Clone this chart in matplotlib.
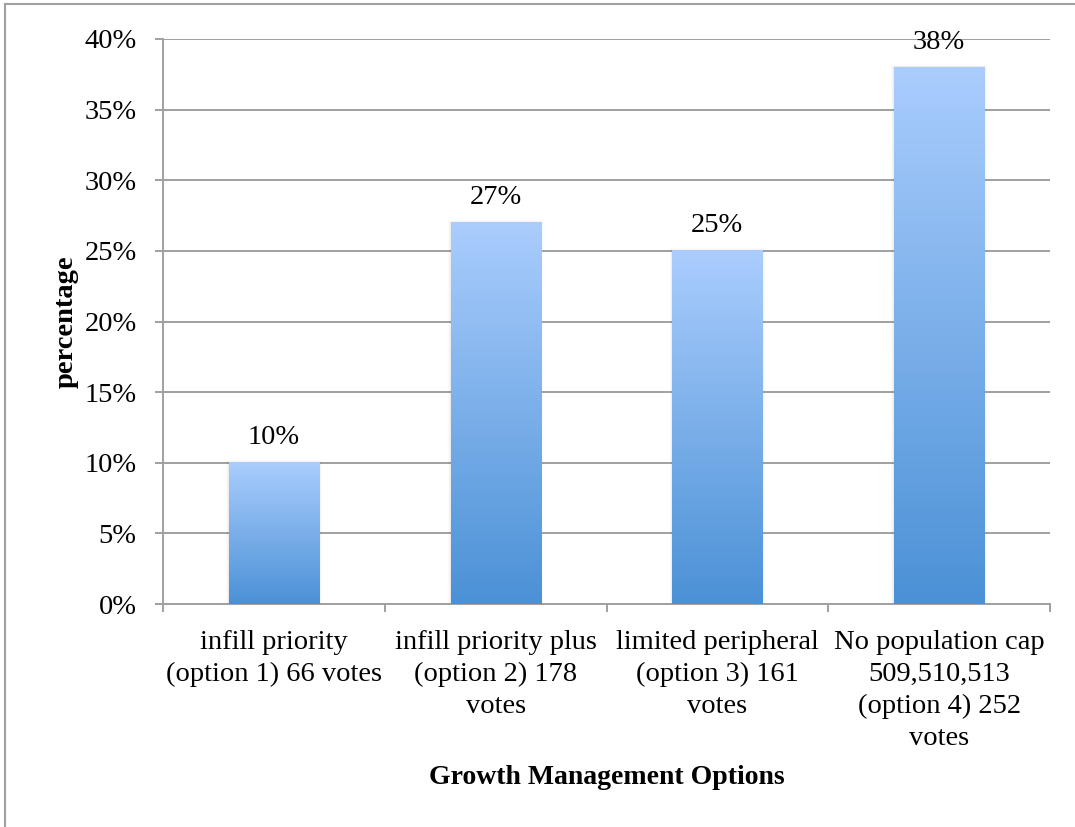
import matplotlib
matplotlib.use("Agg")
import matplotlib.pyplot as plt
import numpy as np
from matplotlib.colors import LinearSegmentedColormap
from matplotlib.patches import Rectangle
from matplotlib.lines import Line2D

categories = [
    "infill priority\n(option 1) 66 votes",
    "infill priority plus\n(option 2) 178\nvotes",
    "limited peripheral\n(option 3) 161\nvotes",
    "No population cap\n509,510,513\n(option 4) 252\nvotes",
]
values = [0.10, 0.27, 0.25, 0.38]
value_labels = ["10%", "27%", "25%", "38%"]
yticks = [0, 0.05, 0.10, 0.15, 0.20, 0.25, 0.30, 0.35, 0.40]
ytick_labels = ["0%", "5%", "10%", "15%", "20%", "25%", "30%", "35%", "40%"]

plt.rcParams['font.family'] = ['Liberation Serif', 'DejaVu Serif']
FS = 20.5

fig = plt.figure(figsize=(10.75, 8.27), dpi=100)
ax = fig.add_axes([163/1075, 1 - 604/827, (1050-163)/1075, (604-39)/827])

grid_col = '#a0a0a0'
x = np.arange(len(categories))
width = 0.406
cmap = LinearSegmentedColormap.from_list('g', ['#4b91d6', '#aacdfd'])
grad = np.linspace(0, 1, 256).reshape(-1, 1)

bars = ax.bar(x, values, width=width, color='none', zorder=3)
for b in bars:
    x0, y0 = b.get_x(), b.get_y()
    w, h = b.get_width(), b.get_height()
    # soft shadow
    for k, a in enumerate([0.035, 0.025, 0.015]):
        d = 0.004 * (k + 1)
        ax.add_patch(Rectangle((x0 - d, y0), w + 2 * d, h + 0.0006 * (k + 1),
                               facecolor='black', alpha=a, edgecolor='none', zorder=2.5))
    ax.imshow(grad, cmap=cmap, origin='lower', aspect='auto',
              extent=[x0, x0 + w, y0, y0 + h], zorder=3)

for xi, v, lab in zip(x, values, value_labels):
    ax.annotate(lab, (xi, v), xytext=(0, 9), textcoords='offset points',
                ha='center', va='bottom', fontsize=FS, color='black', zorder=5)

ax.set_xlim(-0.5, len(categories) - 0.5)
ax.set_ylim(0, 0.40)
ax.set_yticks(yticks)
ax.set_yticklabels(ytick_labels, fontsize=FS)
ax.yaxis.grid(True, color=grid_col, linewidth=1.4, zorder=0)
ax.set_axisbelow(True)

ax.set_xticks(x)
ax.set_xticklabels(categories, fontsize=FS, linespacing=1.35)
ax.tick_params(axis='x', length=0, pad=19)
ax.set_xticks(np.arange(-0.5, len(categories), 1.0), minor=True)
ax.tick_params(axis='x', which='minor', length=6, width=1.4, color=grid_col)
ax.tick_params(axis='y', length=6, width=1.4, color=grid_col, pad=13)

for s in ['top', 'right']:
    ax.spines[s].set_visible(False)
for s in ['left', 'bottom']:
    ax.spines[s].set_color(grid_col)
    ax.spines[s].set_linewidth(1.4)

ax.set_ylabel('percentage', fontsize=FS, fontweight='bold', labelpad=4)
ax.set_xlabel('Growth Management Options', fontsize=20, fontweight='bold', labelpad=10.5)

# outer frame (top and left edges visible)
fig.add_artist(Line2D([5/1075, 5/1075], [0, 1 - 4/827], color='#a0a0a0', lw=1.5, transform=fig.transFigure))
fig.add_artist(Line2D([5/1075, 1], [1 - 4/827, 1 - 4/827], color='#a0a0a0', lw=1.5, transform=fig.transFigure))

fig.savefig('out.png', dpi=100)
